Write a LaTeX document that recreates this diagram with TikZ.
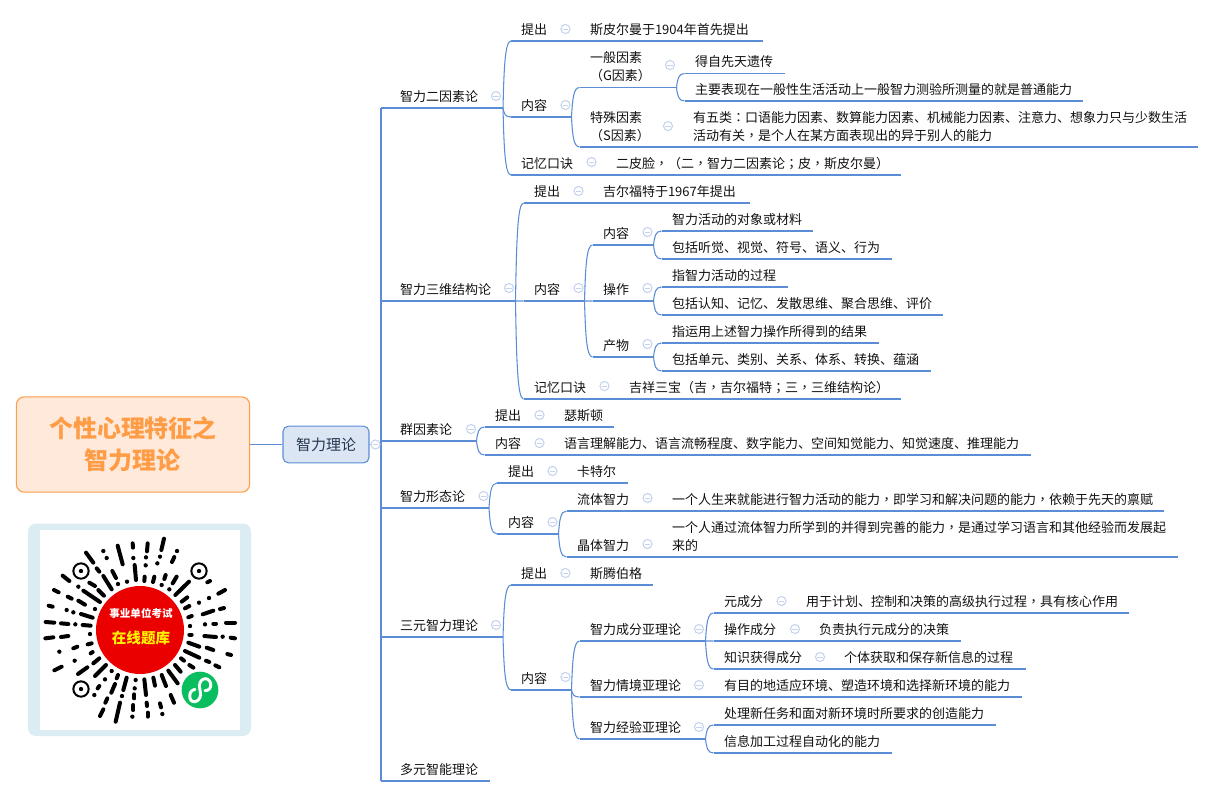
\documentclass[tikz,border=0pt]{standalone}
\usepackage{fontspec}
\setmainfont{Noto Sans CJK SC}
\newfontfamily\tcf{Noto Sans CJK TC}
\usetikzlibrary{calc}
\definecolor{linec}{HTML}{5A8DD6}
\definecolor{iconc}{HTML}{C6D3EE}
\definecolor{txtc}{HTML}{111111}
\definecolor{rootf}{HTML}{FFE9DA}
\definecolor{rootd}{HTML}{FF9C46}
\definecolor{mainf}{HTML}{DBE5F3}
\definecolor{maint}{HTML}{26364F}
\definecolor{frame}{HTML}{DBECF3}
\definecolor{qrred}{HTML}{EB0000}
\definecolor{qrgreen}{HTML}{0ABD5E}
\newcommand{\cm}{{\tcf ，}}
\newcommand{\cn}{{\tcf ：}}
\newcommand{\sm}{{\tcf ；}}
\newcommand{\lp}{{\tcf （}}
\newcommand{\rp}{{\tcf ）}}
\tikzset{
  topic/.style={inner sep=0pt,outer sep=0pt,anchor=south west,text=txtc,font=\fontsize{9.75pt}{13.5pt}\selectfont},
  uline/.style={draw=linec,line width=0.8pt},
  conn/.style={draw=linec,line width=0.8pt},
  icon/.style={circle,draw=iconc,fill=white,line width=0.8pt,inner sep=0pt,minimum size=6.8pt,
    path picture={\draw[iconc,line width=0.7pt] ($(path picture bounding box.center)+(-2.0pt,0)$) -- ($(path picture bounding box.center)+(2.0pt,0)$);}},
  rootbox/.style={draw=rootd,fill=rootf,rounded corners=6pt,line width=0.8pt,minimum width=175pt,minimum height=71.5pt,inner sep=0pt,align=center,text=rootd,font=\fontsize{18pt}{24pt}\selectfont\bfseries},
  mainbox/.style={draw=linec,fill=mainf,rounded corners=4pt,line width=0.8pt,minimum width=64.5pt,minimum height=27.5pt,inner sep=0pt,text=maint,font=\fontsize{11.25pt}{14pt}\selectfont},
  qrs/.style={line width=3pt,line cap=round,black},
}
% name, x0, x1, y, text x, text
\newcommand{\tn}[6]{%
  \pgfmathsetlengthmacro{\wW}{(#3-(#2))*0.75}%
  \pgfmathsetlengthmacro{\wP}{(#5-(#2))*0.75}%
  \node[topic] (#1) at (#2,#4) {\makebox[\wW][l]{\hspace*{\wP}\rule[-4.9pt]{0pt}{1pt}\begin{tabular}[b]{@{}l@{}}#6\end{tabular}}};
  \draw[uline] (#1.south west) -- (#1.south east);
}
\newcommand{\cc}[2]{\draw[conn] (#1.south east) .. controls ($(#1.south east)!0.6!(#1.south east |- #2.south west)+(1,0)$) and ($(#2.south west)+(-6,0)$) .. (#2.south west);}
\newcommand{\ic}[3]{\node[icon] (#1) at (#2,#3) {};}
\newcommand{\qs}[4]{\draw[qrs] (#1,#2) -- (#3,#4);}
\newcommand{\qd}[2]{\fill[black] (#1,#2) circle (6.5);}
\newcommand{\qf}[2]{\draw[black,line width=1.5pt] (#1,#2) circle (23); \fill[black] (#1,#2) circle (6.5);}
\begin{document}
\begin{tikzpicture}[x=0.75pt,y=-0.75pt]
\useasboundingbox (0,0) rectangle (1215,797);
\node[rootbox] (root) at (133,444.5) {\raisebox{-1pt}{个性心理特征之}\\\raisebox{-1pt}{智力理论}};
\node[mainbox] (main) at (326,444.5) {智力理论};
\draw[conn] (root.east) -- (main.west);
% level 1
\tn{a}{381}{503}{108}{400}{智力二因素论}
\tn{b}{381}{515.5}{301}{400}{智力三维结构论}
\tn{c}{381}{476.5}{441}{400}{群因素论}
\tn{d}{381}{489}{508}{400}{智力形态论}
\tn{e}{381}{503}{637}{400}{三元智力理论}
\tn{f}{381}{490}{781}{400}{多元智能理论}
\draw[conn] (a.south west) -- (f.south west);
\draw[conn] (main.east) -- (main.east -| a.south west);
% a
\tn{a1}{511}{577}{41}{521}{提出}
\tn{a1x}{577}{763}{41}{590}{斯皮尔曼于1904年首先提出}
\tn{a2}{511}{571.5}{117}{521}{内容}
\tn{a3}{511}{604}{175}{521}{记忆口诀}
\tn{a3x}{604}{901}{175}{616}{二皮脸\cm\lp 二\cm 智力二因素论\sm 皮\cm 斯皮尔曼\rp}
\cc{a}{a1}\cc{a}{a2}\cc{a}{a3}
\tn{a21}{579.5}{676.5}{87.5}{590}{一般因素\\\lp G因素\rp}
\tn{a22}{579.5}{681}{147}{590}{特殊因素\\\lp S因素\rp}
\tn{a22x}{681}{1198}{147}{693}{有五类\cn 口语能力因素、数算能力因素、机械能力因素、注意力、想象力只与少数生活\\活动有关\cm 是个人在某方面表现出的异于别人的能力}
\cc{a2}{a21}\cc{a2}{a22}
\tn{a211}{684.5}{785}{73.5}{695}{得自先天遗传}
\tn{a212}{684.5}{1083}{101}{695}{主要表现在一般性生活活动上一般智力测验所测量的就是普通能力}
\cc{a21}{a211}\cc{a21}{a212}
% b
\tn{b1}{523.5}{590}{203}{534}{提出}
\tn{b1x}{590}{750}{203}{603}{吉尔福特于1967年提出}
\tn{b2}{523.5}{584.5}{301}{534}{内容}
\tn{b3}{523.5}{617}{399}{534}{记忆口诀}
\tn{b3x}{617}{901}{399}{629}{吉祥三宝\lp 吉\cm 吉尔福特\sm 三\cm 三维结构论\rp}
\cc{b}{b1}\cc{b}{b2}\cc{b}{b3}
\tn{b21}{592.5}{653.5}{245}{603}{内容}
\tn{b22}{592.5}{653.5}{301}{603}{操作}
\tn{b23}{592.5}{653.5}{357}{603}{产物}
\cc{b2}{b21}\cc{b2}{b22}\cc{b2}{b23}
\tn{b211}{661.5}{813}{231}{672}{智力活动的对象或材料}
\tn{b212}{661.5}{892}{259}{672}{包括听觉、视觉、符号、语义、行为}
\cc{b21}{b211}\cc{b21}{b212}
\tn{b221}{661.5}{787.5}{287}{672}{指智力活动的过程}
\tn{b222}{661.5}{943}{315}{672}{包括认知、记忆、发散思维、聚合思维、评价}
\cc{b22}{b221}\cc{b22}{b222}
\tn{b231}{661.5}{879}{343}{672}{指运用上述智力操作所得到的结果}
\tn{b232}{661.5}{931}{371}{672}{包括单元、类别、关系、体系、转换、蕴涵}
\cc{b23}{b231}\cc{b23}{b232}
% c
\tn{c1}{484.5}{551}{427}{495}{提出}
\tn{c1x}{551}{614}{427}{564}{瑟斯顿}
\tn{c2}{484.5}{551}{455}{495}{内容}
\tn{c2x}{551}{1031}{455}{564}{语言理解能力、语言流畅程度、数字能力、空间知觉能力、知觉速度、推理能力}
\cc{c}{c1}\cc{c}{c2}
% d
\tn{d1}{497}{564}{483}{508}{提出}
\tn{d1x}{564}{628}{483}{577}{卡特尔}
\tn{d2}{497}{558.5}{534}{508}{内容}
\cc{d}{d1}\cc{d}{d2}
\tn{d21}{566.5}{660}{511}{577}{流体智力}
\tn{d21x}{660}{1164}{511}{672}{一个人生来就能进行智力活动的能力\cm 即学习和解决问题的能力\cm 依赖于先天的禀赋}
\tn{d22}{566.5}{660}{557}{577}{晶体智力}
\tn{d22x}{660}{1178}{557}{672}{一个人通过流体智力所学到的并得到完善的能力\cm 是通过学习语言和其他经验而发展起\\来的}
\cc{d2}{d21}\cc{d2}{d22}
% e
\tn{e1}{511}{577}{585}{521}{提出}
\tn{e1x}{577}{653}{585}{590}{斯腾伯格}
\tn{e2}{511}{571.5}{690}{521}{内容}
\cc{e}{e1}\cc{e}{e2}
\tn{e21}{579.5}{705.5}{641}{590}{智力成分亚理论}
\tn{e22}{579.5}{711}{697}{590}{智力情境亚理论}
\tn{e22x}{711}{1021.5}{697}{724}{有目的地适应环境、塑造环境和选择新环境的能力}
\tn{e23}{579.5}{705.5}{739}{590}{智力经验亚理论}
\cc{e2}{e21}\cc{e2}{e22}\cc{e2}{e23}
\tn{e211}{713.5}{793}{613}{724}{元成分}
\tn{e211x}{793}{1129}{613}{806}{用于计划、控制和决策的高级执行过程\cm 具有核心作用}
\tn{e212}{713.5}{807}{641}{724}{操作成分}
\tn{e212x}{807}{961}{641}{819}{负责执行元成分的决策}
\tn{e213}{713.5}{832}{669}{724}{知识获得成分}
\tn{e213x}{832}{1026}{669}{844}{个体获取和保存新信息的过程}
\cc{e21}{e211}\cc{e21}{e212}\cc{e21}{e213}
\tn{e231}{713.5}{996}{725}{724}{处理新任务和面对新环境时所要求的创造能力}
\tn{e232}{713.5}{892}{753}{724}{信息加工过程自动化的能力}
\cc{e23}{e231}\cc{e23}{e232}
% collapse icons
\ic{i0}{375.5}{444.5}
\ic{ia}{496}{96}\ic{ib}{509}{288}\ic{ic}{471}{429}\ic{id}{483.5}{496}\ic{ie}{496}{625}
\ic{ia1}{565.5}{29}\ic{ia2}{565.5}{105}\ic{ia3}{591.5}{162}\ic{ia21}{670}{65}\ic{ia22}{668}{126}
\ic{ib1}{578.5}{191}\ic{ib2}{578.5}{288}\ic{ib3}{604.5}{386}\ic{ib21}{647.5}{232}\ic{ib22}{647.5}{288}\ic{ib23}{647.5}{344}
\ic{ic1}{539.5}{415}\ic{ic2}{539.5}{443}
\ic{id1}{552.5}{471}\ic{id2}{552.5}{522}\ic{id21}{647.5}{498}\ic{id22}{647.5}{544}
\ic{ie1}{565.5}{573}\ic{ie2}{565.5}{677}\ic{ie21}{699}{629}\ic{ie22}{699}{685}\ic{ie23}{699}{727}
\ic{ie211}{781.5}{601}\ic{ie212}{795}{629}\ic{ie213}{820}{657}
% QR card
\fill[frame,rounded corners=6pt] (28,523.5) rectangle (251,736);
\fill[white] (40,530) rectangle (240,730);
\begin{scope}[x=0.25pt,y=-0.25pt,yshift=-285pt]
\qf{243}{573}\qf{597}{573}\qf{243}{927}
\qs{258}{518}{280}{548}\qd{310}{513}\qd{320}{534}\qs{353}{497}{368}{553}\qs{398}{490}{399}{503}\qd{400}{534}
\qs{443}{490}{441}{514}\qd{438}{532}\qd{437}{556}\qs{492}{476}{484}{510}\qd{480}{530}\qd{472}{550}\qd{531}{513}\qs{523}{531}{516}{546}
\qs{290}{565}{298}{575}\qs{337}{573}{348}{594}\qd{354}{612}\qd{381}{605}\qs{404}{555}{408}{600}\qs{434}{590}{433}{603}\qs{463}{590}{459}{606}\qs{497}{585}{493}{597}\qd{485}{615}\qs{530}{590}{518}{610}\qd{508}{628}\qs{567}{605}{526}{645}
\qs{545}{665}{562}{652}\qs{555}{685}{568}{678}\qs{630}{603}{622}{607}\qs{675}{630}{655}{641}\qd{627}{654}\qd{597}{668}\qs{672}{684}{660}{687}\qs{640}{692}{608}{703}\qs{575}{708}{565}{712}\qd{570}{738}\qd{615}{733}\qs{640}{731}{648}{731}\qs{678}{728}{705}{728}
\qs{575}{764}{568}{764}\qs{613}{768}{648}{771}\qd{668}{770}\qs{692}{773}{705}{775}\qs{565}{788}{598}{800}\qs{620}{803}{640}{810}\qs{682}{822}{693}{825}\qs{555}{813}{598}{833}\qs{618}{842}{628}{846}\qs{646}{856}{658}{862}\qs{543}{835}{552}{842}\qs{568}{855}{580}{863}\qs{525}{855}{542}{875}
\qs{505}{872}{533}{910}\qs{485}{885}{498}{918}\qs{460}{893}{465}{917}\qs{433}{898}{438}{945}\qd{407}{900}\qd{404}{925}\qs{403}{943}{403}{955}\qs{400}{975}{400}{990}\qd{397}{1010}\qs{440}{968}{441}{978}\qs{443}{998}{443}{1010}\qs{480}{970}{483}{982}\qd{487}{1002}\qs{512}{945}{522}{968}
\qs{380}{893}{370}{930}\qd{366}{948}\qs{360}{968}{347}{1025}\qs{322}{955}{316}{968}\qs{310}{988}{300}{1008}\qs{354}{885}{350}{895}\qd{335}{873}\qs{345}{912}{334}{938}\qd{315}{898}\qs{298}{918}{293}{925}\qd{283}{945}
\qs{318}{855}{285}{888}\qs{298}{835}{280}{850}\qs{262}{862}{234}{882}\qs{185}{860}{163}{871}\qd{224}{842}\qs{278}{816}{272}{820}\qs{232}{800}{220}{805}\qd{178}{815}\qs{275}{790}{263}{793}\qd{270}{762}\qs{205}{768}{183}{771}\qs{160}{772}{136}{775}\qs{137}{726}{163}{728}\qs{183}{730}{205}{732}\qd{226}{733}\qs{248}{735}{272}{737}\qs{243}{702}{278}{713}
\qs{146}{677}{158}{680}\qd{200}{690}\qd{220}{697}\qs{235}{662}{255}{674}\qs{203}{650}{215}{656}\qd{285}{687}\qs{250}{632}{300}{666}\qs{268}{608}{285}{618}\qs{295}{630}{312}{647}\qd{235}{620}\qs{310}{588}{335}{628}\qs{188}{587}{208}{603}\qs{162}{630}{176}{637}
% red disc
\fill[qrred] (420,750) circle (132);
\node[inner sep=0pt,text=white,font=\fontsize{7.9pt}{9pt}\selectfont\bfseries] (qt1) at (423,700) {事业单位考试};
\node[inner sep=0pt,text=yellow,font=\fontsize{10.9pt}{12pt}\selectfont\bfseries] (qt2) at (423,775) {在线题库};
% green mini-programme badge
\fill[qrgreen] (600,930) circle (55);
\draw[white,line width=2.2pt,line cap=round] (570,955) .. controls (575,975) and (610,965) .. (600,930) .. controls (590,895) and (625,885) .. (632,910) .. controls (635,925) and (625,932) .. (615,932);
\draw[white,line width=2.2pt,line cap=round] (585,928) .. controls (575,930) and (566,938) .. (570,955);
\end{scope}
\end{tikzpicture}
\end{document}
